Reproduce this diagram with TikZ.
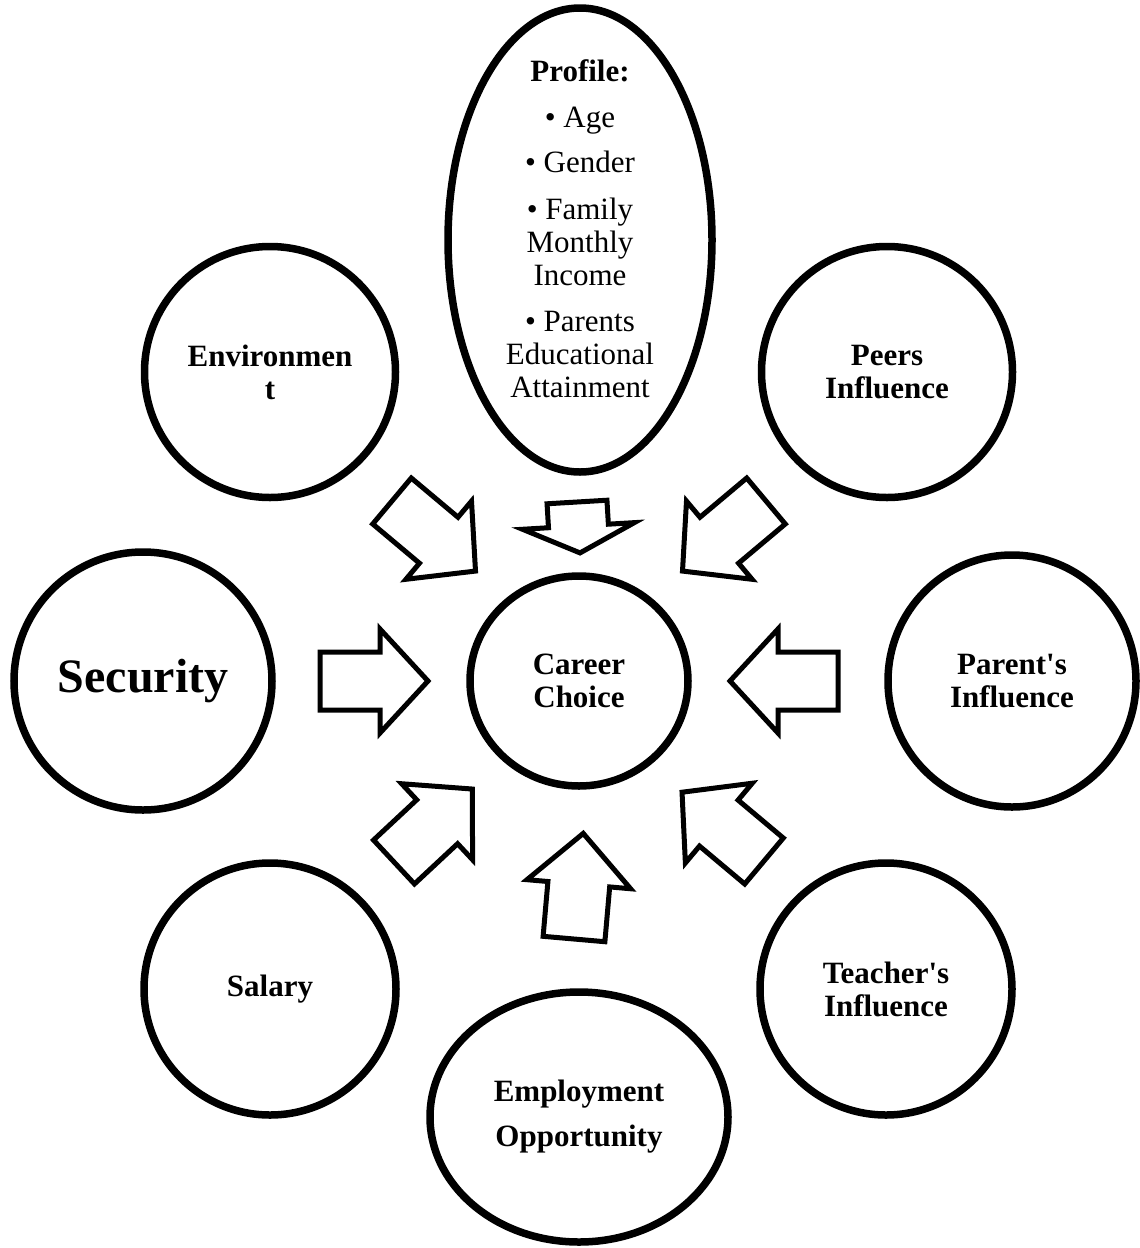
\documentclass[tikz,border=0pt]{standalone}
\usepackage{fontspec}
\setmainfont{Liberation Serif}
\usetikzlibrary{shapes.geometric,shadows}
\tikzset{
  bubble/.style={shape=ellipse, draw, line width=7.5pt, fill=white, inner sep=0pt,
    align=center, font=\fontsize{31}{33}\selectfont\bfseries,
    drop shadow={shadow xshift=1.5pt, shadow yshift=-3pt, opacity=0.2}},
  plaintext/.style={align=center, inner sep=0pt, font=\fontsize{31}{33}\selectfont},
  barrow/.style={draw, line width=5pt, fill=white, line join=miter}
}
% name, x, y, angle, length, shaft half width, head half width, head length
\newcommand\blockarrow[8]{%
  \draw[barrow, shift={(#2,#3)}, rotate=#4] (0,#6) -- (#5-#8,#6) -- (#5-#8,#7) -- (#5,0)
     -- (#5-#8,-#7) -- (#5-#8,-#6) -- (0,-#6) -- cycle;
  \coordinate (#1) at (#2,#3);}
\begin{document}
\begin{tikzpicture}[x=1pt,y=-1pt]
\useasboundingbox (0,0) rectangle (1140,1248);

% bubbles
\node[bubble, minimum width=264pt, minimum height=464pt] (profile) at (580,240) {};
\node[plaintext] (profiletext) at (580,229) {\textbf{Profile:}\\[13pt]
  • Age\\[12pt] • Gender\\[14pt] • Family\\ Monthly\\ Income\\[13pt]
  • Parents\\ Educational\\ Attainment};
\node[bubble, minimum width=251pt, minimum height=251pt] (env) at (270,372) {Environmen\\t};
\node[bubble, minimum width=251pt, minimum height=251pt] (peers) at (887,372) {Peers\\Influence};
\node[bubble, minimum width=258pt, minimum height=258pt, font=\fontsize{48}{52}\selectfont\bfseries] (security) at (143,681) {Security};
\node[bubble, minimum width=218pt, minimum height=210pt] (career) at (579,681) {Career\\Choice};
\node[bubble, minimum width=248pt, minimum height=252pt] (parents) at (1012,681) {Parent\textquotesingle s\\Influence};
\node[bubble, minimum width=252pt, minimum height=252pt] (salary) at (270,989) {Salary};
\node[bubble, minimum width=252pt, minimum height=252pt] (teacher) at (886,989) {Teacher\textquotesingle s\\Influence};
\node[bubble, minimum width=298pt, minimum height=250pt] (employ) at (579,1117) {Employment\\[12pt]Opportunity};

% block arrows toward Career Choice
\blockarrow{a1}{320}{681}{0}{108}{29}{52}{48}
\blockarrow{a2}{838}{681}{180}{108}{29}{52}{48}
\blockarrow{a3}{577}{502}{-86.6}{51}{30}{56}{27}
\blockarrow{a4}{392}{501}{-40}{109}{30}{51}{48}
\blockarrow{a5}{766}{501}{-140}{109}{30}{51}{48}
\blockarrow{a6}{394}{862}{43}{107}{30}{52}{48}
\blockarrow{a7}{764}{861}{140}{107}{30}{52}{48}
\blockarrow{a8}{574}{939}{85}{106}{31}{52}{51}
\end{tikzpicture}
\end{document}
